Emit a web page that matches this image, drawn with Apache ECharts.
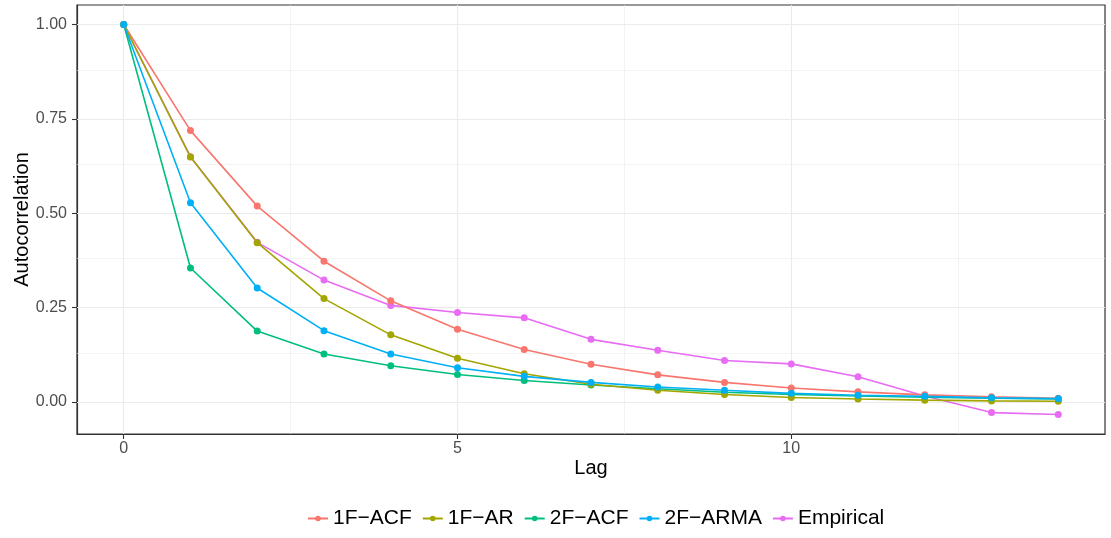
<!DOCTYPE html>
<html>
<head>
<meta charset="utf-8">
<script src="https://cdn.jsdelivr.net/npm/echarts@6/dist/echarts.min.js"></script>
<style>
  html, body { margin: 0; padding: 0; background: #fff; }
  #main { width: 1111px; height: 538px; }
</style>
</head>
<body>
<div id="main"></div>
<script>
// lag values and autocorrelation series
const lags = [0, 1, 2, 3, 4, 5, 6, 7, 8, 9, 10, 11, 12, 13, 14];
const acf1F = [1, 0.719, 0.519, 0.373, 0.268, 0.193, 0.139, 0.100, 0.072, 0.052, 0.037, 0.027, 0.019, 0.014, 0.010];
const ar1F = [1, 0.649, 0.422, 0.274, 0.178, 0.116, 0.075, 0.047, 0.031, 0.020, 0.012, 0.008, 0.005, 0.003, 0.002];
const acf2F = [1, 0.355, 0.188, 0.127, 0.096, 0.073, 0.057, 0.045, 0.035, 0.026, 0.020, 0.016, 0.013, 0.010, 0.008];
const arma2F = [1, 0.528, 0.302, 0.189, 0.127, 0.091, 0.068, 0.052, 0.040, 0.031, 0.023, 0.018, 0.015, 0.011, 0.009];
const empirical = [1, 0.650, 0.423, 0.323, 0.256, 0.237, 0.223, 0.166, 0.137, 0.110, 0.101, 0.067, 0.016, -0.028, -0.033];

const seriesNames = ["1F−ACF", "1F−AR", "2F−ACF", "2F−ARMA", "Empirical"];
const colors = ["#F8766D", "#A3A500", "#00BF7D", "#00B0F6", "#E76BF3"];

// axis ticks and grid lines (ggplot theme_bw look)
const xTicks = [0, 5, 10];
const xMinor = [2.5, 7.5, 12.5];
const yTicks = [0, 0.25, 0.5, 0.75, 1];
const yMinor = [0.125, 0.375, 0.625, 0.875];

const chart = echarts.init(document.getElementById("main"));

const pairs = (vals) => lags.map((l, i) => [l, vals[i]]);

const gridLines = [];
xMinor.forEach((v) => gridLines.push({ xAxis: v, lineStyle: { width: 0.6 } }));
yMinor.forEach((v) => gridLines.push({ yAxis: v, lineStyle: { width: 0.6 } }));
xTicks.forEach((v) => gridLines.push({ xAxis: v, lineStyle: { width: 1.1 } }));
yTicks.forEach((v) => gridLines.push({ yAxis: v, lineStyle: { width: 1.1 } }));

const allData = [acf1F, ar1F, acf2F, arma2F, empirical];
// draw order: Empirical underneath, then the model fits
const drawOrder = [4, 0, 2, 1, 3];

const series = [
  {
    name: "grid",
    type: "line",
    data: [],
    silent: true,
    zlevel: 0,
    z: 0,
    markLine: {
      silent: true,
      symbol: ["none", "none"],
      label: { show: false },
      animation: false,
      lineStyle: { color: "#EBEBEB", type: "solid" },
      emphasis: { disabled: true },
      data: gridLines,
    },
  },
];
drawOrder.forEach((idx) => {
  series.push({
    name: seriesNames[idx],
    type: "line",
    data: pairs(allData[idx]),
    symbol: "circle",
    symbolSize: 7,
    showSymbol: true,
    zlevel: 1,
    itemStyle: { color: colors[idx] },
    lineStyle: { color: colors[idx], width: 1.6 },
    emphasis: { disabled: true },
  });
});

const axisColor = "#333333";

const option = {
  animation: false,
  textStyle: { fontFamily: "Liberation Sans, Arial, sans-serif" },
  grid: {
    left: 77,
    right: 6,
    top: 5,
    bottom: 104,
    show: true,
    borderColor: axisColor,
    borderWidth: 1.2,
    containLabel: false,
    outerBoundsMode: "none",
  },
  legend: {
    data: seriesNames,
    bottom: 4,
    left: 302,
    itemWidth: 20,
    itemHeight: 7,
    itemGap: 10,
    textStyle: { color: "#000", fontSize: 21, fontFamily: "Liberation Sans" },
  },
  xAxis: {
    type: "value",
    min: -0.7,
    max: 14.7,
    name: "Lag",
    nameLocation: "middle",
    nameGap: 24,
    nameMoveOverlap: false,
    nameTextStyle: { color: "#000", fontSize: 20, fontFamily: "Liberation Sans" },
    axisLine: { show: true, onZero: false, lineStyle: { color: axisColor, width: 1.2 } },
    axisTick: { show: true, length: 5, customValues: xTicks, lineStyle: { color: axisColor, width: 1.1 } },
    axisLabel: { customValues: xTicks, color: "#4D4D4D", fontSize: 16, margin: 7, fontFamily: "Liberation Sans" },
    splitLine: { show: false },
  },
  yAxis: {
    type: "value",
    min: -0.0847,
    max: 1.0517,
    name: "Autocorrelation",
    nameLocation: "middle",
    nameGap: 45,
    nameMoveOverlap: false,
    nameTextStyle: { color: "#000", fontSize: 20, fontFamily: "Liberation Sans" },
    axisLine: { show: true, onZero: false, lineStyle: { color: axisColor, width: 1.2 } },
    axisTick: { show: true, length: 5, customValues: yTicks, lineStyle: { color: axisColor, width: 1.1 } },
    axisLabel: {
      customValues: yTicks,
      color: "#4D4D4D",
      fontSize: 16,
      margin: 10,
      fontFamily: "Liberation Sans",
      formatter: (v) => v.toFixed(2),
    },
    splitLine: { show: false },
  },
  series: series,
};

chart.setOption(option);
</script>
</body>
</html>
